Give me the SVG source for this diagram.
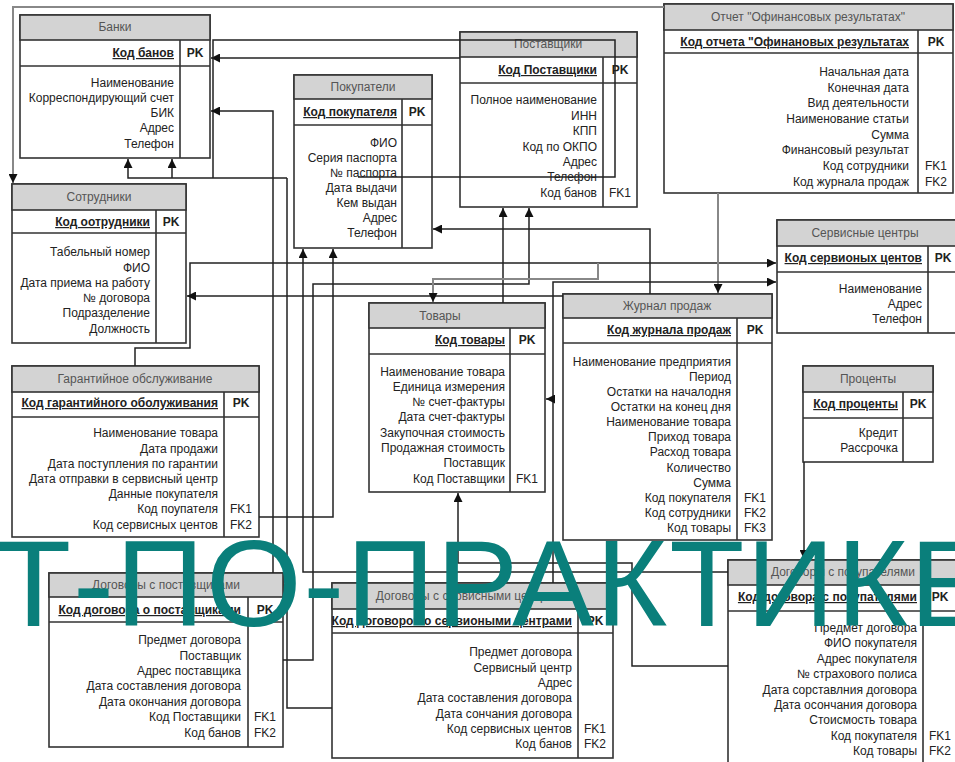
<svg xmlns="http://www.w3.org/2000/svg" width="955" height="762" viewBox="0 0 955 762">
<style>
.bg{fill:#fff}
.hdr{fill:#d3d3d3;stroke:#333;stroke-width:1.6}
.box{fill:#fff;stroke:#333;stroke-width:1.6}
.ln{stroke:#333;stroke-width:1.6;fill:none}
.t{font-family:"Liberation Sans",Arial,sans-serif;font-size:12px;fill:#222}
.a{text-anchor:end}
.m{text-anchor:middle}
.ttl{text-anchor:middle;fill:#555}
.k{font-weight:bold;text-decoration:underline}
.pk{font-weight:bold;text-anchor:middle}
.c{fill:none;stroke:#222;stroke-width:1.5}
.g{fill:none;stroke:#888;stroke-width:2}
.wm{font-family:"Liberation Sans",Arial,sans-serif;font-size:123px;letter-spacing:1.8px;fill:#0a7f7b}
</style>
<defs>
<marker id="ah" viewBox="0 0 10 10" refX="10" refY="5" markerWidth="9" markerHeight="9" orient="auto" markerUnits="userSpaceOnUse"><path d="M0,0 L10,5 L0,10 z" fill="#111"/></marker>
</defs>
<rect class="bg" x="0" y="0" width="955" height="762"/>

<g id="banki">
<rect class="box" x="20" y="15" width="190" height="143"/>
<rect class="hdr" x="20" y="15" width="190" height="25"/>
<path class="ln" d="M20,66H210M180,40V158"/>
<text class="t ttl" x="115" y="31">Банки</text>
<text class="t a k" x="174" y="57">Код банов</text>
<text class="t pk" x="195" y="57">PK</text>
<text class="t a" x="174" y="87">Наименование</text>
<text class="t a" x="174" y="102">Корреспондирующий счет</text>
<text class="t a" x="174" y="117">БИК</text>
<text class="t a" x="174" y="132">Адрес</text>
<text class="t a" x="174" y="148">Телефон</text>
</g>

<g id="sotrudniki">
<rect class="box" x="12" y="184" width="174" height="159"/>
<rect class="hdr" x="12" y="184" width="174" height="26"/>
<path class="ln" d="M12,233H186M156,210V343"/>
<text class="t ttl" x="99" y="201">Сотрудники</text>
<text class="t a k" x="150" y="226">Код оотрудники</text>
<text class="t pk" x="171" y="226">PK</text>
<text class="t a" x="150" y="256">Табельный номер</text>
<text class="t a" x="150" y="272">ФИО</text>
<text class="t a" x="150" y="287">Дата приема на работу</text>
<text class="t a" x="150" y="302">№ договора</text>
<text class="t a" x="150" y="317">Подразделение</text>
<text class="t a" x="150" y="333">Должность</text>
</g>

<g id="pokupateli">
<rect class="box" x="294" y="75" width="138" height="173"/>
<rect class="hdr" x="294" y="75" width="138" height="24"/>
<path class="ln" d="M294,125H432M402,99V248"/>
<text class="t ttl" x="363" y="91">Покупатели</text>
<text class="t a k" x="397" y="116">Код покупателя</text>
<text class="t pk" x="417" y="116">PK</text>
<text class="t a" x="397" y="147">ФИО</text>
<text class="t a" x="397" y="162">Серия паспорта</text>
<text class="t a" x="397" y="177">№ паспорта</text>
<text class="t a" x="397" y="192">Дата выдачи</text>
<text class="t a" x="397" y="207">Кем выдан</text>
<text class="t a" x="397" y="222">Адрес</text>
<text class="t a" x="397" y="237">Телефон</text>
</g>

<g id="postavshchiki">
<rect class="box" x="460" y="32" width="177" height="175"/>
<rect class="hdr" x="460" y="32" width="177" height="25"/>
<path class="ln" d="M460,83H637M603,57V207"/>
<text class="t ttl" x="548" y="48">Поставщики</text>
<text class="t a k" x="597" y="74">Код Поставщики</text>
<text class="t pk" x="620" y="74">PK</text>
<text class="t a" x="597" y="104">Полное наименование</text>
<text class="t a" x="597" y="120">ИНН</text>
<text class="t a" x="597" y="135">КПП</text>
<text class="t a" x="597" y="151">Код по ОКПО</text>
<text class="t a" x="597" y="166">Адрес</text>
<text class="t a" x="597" y="181">Телефон</text>
<text class="t a" x="597" y="197">Код банов</text>
<text class="t m" x="620" y="197">FK1</text>
</g>

<g id="otchet">
<rect class="box" x="664" y="4" width="289" height="189"/>
<rect class="hdr" x="664" y="4" width="289" height="26"/>
<path class="ln" d="M664,53H953M918,30V193"/>
<text class="t ttl" x="808" y="21">Отчет "Офинансовых результатах"</text>
<text class="t a k" x="909" y="46">Код отчета "Офинановых результатах</text>
<text class="t pk" x="936" y="46">PK</text>
<text class="t a" x="909" y="76">Начальная дата</text>
<text class="t a" x="909" y="92">Конечная дата</text>
<text class="t a" x="909" y="107">Вид деятельности</text>
<text class="t a" x="909" y="123">Наименование статьи</text>
<text class="t a" x="909" y="139">Сумма</text>
<text class="t a" x="909" y="154">Финансовый результат</text>
<text class="t a" x="909" y="170">Код сотрудники</text>
<text class="t a" x="909" y="186">Код журнала продаж</text>
<text class="t m" x="936" y="170">FK1</text>
<text class="t m" x="936" y="186">FK2</text>
</g>

<g id="servisnye-centry">
<rect class="box" x="777" y="220" width="181" height="113"/>
<rect class="hdr" x="777" y="220" width="181" height="26"/>
<path class="ln" d="M777,272H958M928,246V333"/>
<text class="t ttl" x="865" y="237">Сервисные центры</text>
<text class="t a k" x="922" y="262">Код сервионых центов</text>
<text class="t pk" x="943" y="262">PK</text>
<text class="t a" x="922" y="293">Наименование</text>
<text class="t a" x="922" y="308">Адрес</text>
<text class="t a" x="922" y="323">Телефон</text>
</g>

<g id="zhurnal-prodazh">
<rect class="box" x="563" y="294" width="209" height="246"/>
<rect class="hdr" x="563" y="294" width="209" height="24"/>
<path class="ln" d="M563,343H772M737,318V540"/>
<text class="t ttl" x="667" y="310">Журнал продаж</text>
<text class="t a k" x="731" y="334">Код журнала продаж</text>
<text class="t pk" x="755" y="334">PK</text>
<text class="t a" x="731" y="366">Наименование предприятия</text>
<text class="t a" x="731" y="381">Период</text>
<text class="t a" x="731" y="396">Остатки на началодня</text>
<text class="t a" x="731" y="411">Остатки на конец дня</text>
<text class="t a" x="731" y="426">Наименование товара</text>
<text class="t a" x="731" y="441">Приход товара</text>
<text class="t a" x="731" y="456">Расход товара</text>
<text class="t a" x="731" y="472">Количество</text>
<text class="t a" x="731" y="487">Сумма</text>
<text class="t a" x="731" y="502">Код покупателя</text>
<text class="t a" x="731" y="517">Код сотрудники</text>
<text class="t a" x="731" y="532">Код товары</text>
<text class="t m" x="755" y="502">FK1</text>
<text class="t m" x="755" y="517">FK2</text>
<text class="t m" x="755" y="532">FK3</text>
</g>

<g id="tovary">
<rect class="box" x="369" y="303" width="176" height="189"/>
<rect class="hdr" x="369" y="303" width="176" height="25"/>
<path class="ln" d="M369,354H545M510,328V492"/>
<text class="t ttl" x="440" y="320">Товары</text>
<text class="t a k" x="505" y="344">Код товары</text>
<text class="t pk" x="527" y="344">PK</text>
<text class="t a" x="505" y="376">Наименование товара</text>
<text class="t a" x="505" y="391">Единица измерения</text>
<text class="t a" x="505" y="406">№ счет-фактуры</text>
<text class="t a" x="505" y="421">Дата счет-фактуры</text>
<text class="t a" x="505" y="437">Закупочная стоимость</text>
<text class="t a" x="505" y="452">Продажная стоимость</text>
<text class="t a" x="505" y="467">Поставщик</text>
<text class="t a" x="505" y="483">Код Поставщики</text>
<text class="t m" x="527" y="483">FK1</text>
</g>

<g id="procenty">
<rect class="box" x="803" y="366" width="130" height="96"/>
<rect class="hdr" x="803" y="366" width="130" height="26"/>
<path class="ln" d="M803,418H933M903,392V462"/>
<text class="t ttl" x="868" y="383">Проценты</text>
<text class="t a k" x="898" y="408">Код проценты</text>
<text class="t pk" x="918" y="408">PK</text>
<text class="t a" x="898" y="437">Кредит</text>
<text class="t a" x="898" y="452">Рассрочка</text>
</g>

<g id="garantiynoe">
<rect class="box" x="12" y="366" width="247" height="171"/>
<rect class="hdr" x="12" y="366" width="247" height="26"/>
<path class="ln" d="M12,417H259M224,392V537"/>
<text class="t ttl" x="135" y="383">Гарантийное обслуживание</text>
<text class="t a k" x="218" y="407">Код гарантийного оболуживания</text>
<text class="t pk" x="241" y="407">PK</text>
<text class="t a" x="218" y="437">Наименование товара</text>
<text class="t a" x="218" y="453">Дата продажи</text>
<text class="t a" x="218" y="468">Дата поступления по гарантии</text>
<text class="t a" x="218" y="483">Дата отправки в сервисный центр</text>
<text class="t a" x="218" y="498">Данные покупателя</text>
<text class="t a" x="218" y="513">Код поупателя</text>
<text class="t a" x="218" y="529">Код сервисных центов</text>
<text class="t m" x="241" y="513">FK1</text>
<text class="t m" x="241" y="529">FK2</text>
</g>

<g id="dogovory-postavshchiki">
<rect class="box" x="49" y="573" width="234" height="174"/>
<rect class="hdr" x="49" y="573" width="234" height="24"/>
<path class="ln" d="M49,622H283M248,597V747"/>
<text class="t ttl" x="166" y="589">Договоры с поставщиками</text>
<text class="t a k" x="241" y="614">Код договора о поставщиками</text>
<text class="t pk" x="265" y="614">PK</text>
<text class="t a" x="241" y="644">Предмет договора</text>
<text class="t a" x="241" y="660">Поставщик</text>
<text class="t a" x="241" y="675">Адрес поставщика</text>
<text class="t a" x="241" y="690">Дата составления договора</text>
<text class="t a" x="241" y="706">Дата окончания договора</text>
<text class="t a" x="241" y="721">Код Поставщики</text>
<text class="t a" x="241" y="737">Код банов</text>
<text class="t m" x="265" y="721">FK1</text>
<text class="t m" x="265" y="737">FK2</text>
</g>

<g id="dogovory-servis">
<rect class="box" x="332" y="583" width="281" height="175"/>
<rect class="hdr" x="332" y="583" width="281" height="26"/>
<path class="ln" d="M332,633H613M578,609V758"/>
<text class="t ttl" x="472" y="600">Договоры с сервисными центрами</text>
<text class="t a k" x="572" y="625">Код договоров о сервиоными центрами</text>
<text class="t pk" x="595" y="625">PK</text>
<text class="t a" x="572" y="656">Предмет договора</text>
<text class="t a" x="572" y="672">Сервисный центр</text>
<text class="t a" x="572" y="687">Адрес</text>
<text class="t a" x="572" y="702">Дата составления договора</text>
<text class="t a" x="572" y="718">Дата сончания договора</text>
<text class="t a" x="572" y="733">Код сервисных центов</text>
<text class="t a" x="572" y="748">Код банов</text>
<text class="t m" x="595" y="733">FK1</text>
<text class="t m" x="595" y="748">FK2</text>
</g>

<g id="dogovory-pokupateli">
<rect class="box" x="728" y="560" width="230" height="210"/>
<rect class="hdr" x="728" y="560" width="230" height="25"/>
<path class="ln" d="M728,611H958M923,585V770"/>
<text class="t ttl" x="843" y="576">Договоры с покупателями</text>
<text class="t a k" x="917" y="601">Код договора с покупателями</text>
<text class="t pk" x="940" y="601">PK</text>
<text class="t a" x="917" y="632">Предмет договора</text>
<text class="t a" x="917" y="647">ФИО покупателя</text>
<text class="t a" x="917" y="663">Адрес покупателя</text>
<text class="t a" x="917" y="678">№ страхового полиса</text>
<text class="t a" x="917" y="694">Дата сорставлния договора</text>
<text class="t a" x="917" y="709">Дата осончания договора</text>
<text class="t a" x="917" y="724">Стоисмость товара</text>
<text class="t a" x="917" y="740">Код покупателя</text>
<text class="t a" x="917" y="755">Код товары</text>
<text class="t m" x="940" y="740">FK1</text>
<text class="t m" x="940" y="755">FK2</text>
</g>

<g id="connectors">
<path class="g" d="M664,7H13V183" marker-end="url(#ah)"/>
<path class="c" d="M460,58H211" marker-end="url(#ah)"/>
<path class="c" d="M358,177H615V40H213V178"/>
<path class="c" d="M287,178H128V159" marker-end="url(#ah)"/>
<path class="c" d="M172,178V159" marker-end="url(#ah)"/>
<path class="c" d="M273,573V111H211" marker-end="url(#ah)"/>
<path class="c" d="M332,708H287V178"/>
<path class="c" d="M135,366V348H190V263H776" marker-end="url(#ah)"/>
<path class="c" d="M563,296H187" marker-end="url(#ah)"/>
<path class="c" d="M650,294V229H433" marker-end="url(#ah)"/>
<path class="c" d="M503,303V208" marker-end="url(#ah)"/>
<path class="c" d="M283,660H313V284H529V208" marker-end="url(#ah)"/>
<path class="c" d="M728,572H303V249" marker-end="url(#ah)"/>
<path class="c" d="M259,517H333V249" marker-end="url(#ah)"/>
<path class="g" d="M718,193V293" marker-end="url(#ah)"/>
<path class="g" d="M598,263V279H433V302" marker-end="url(#ah)"/>
<path class="c" d="M553,583V282H776" marker-end="url(#ah)"/>
<path class="c" d="M553,399H546" marker-end="url(#ah)"/>
<path class="c" d="M728,666H632V563H458V493" marker-end="url(#ah)"/>
<path class="c" d="M804,462V559" marker-end="url(#ah)"/>
</g>

<text class="wm" x="-4" y="626">Т-ПО-ПРАКТИКЕ</text>
</svg>
